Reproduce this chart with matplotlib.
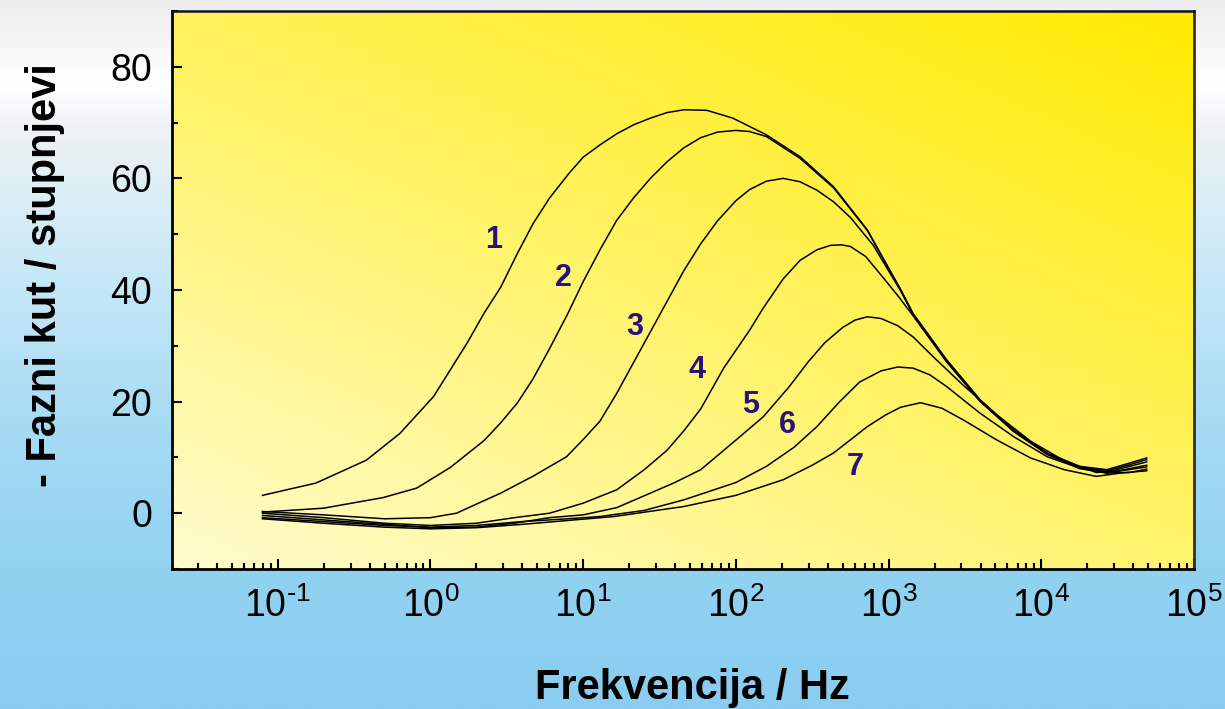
import numpy as np
import matplotlib
matplotlib.use("Agg")
import matplotlib.pyplot as plt
from matplotlib.colors import to_rgb
from matplotlib.ticker import FixedLocator, LogLocator, MultipleLocator, FixedFormatter, NullFormatter

plt.rcParams['font.family'] = ['Liberation Sans', 'DejaVu Sans']
plt.rcParams['mathtext.default'] = 'regular'
plt.rcParams['axes.unicode_minus'] = False

# ---- data (log10 of frequency in Hz, phase angle in degrees) ----
logf_1 = [-1.1, -0.75, -0.42, -0.2, 0.02, 0.24, 0.35, 0.46, 0.57, 0.67, 0.78, 0.91, 1.0, 1.11, 1.22, 1.33, 1.44,
          1.55, 1.66, 1.81, 1.98, 2.2, 2.42, 2.64, 2.86, 3.08, 3.16, 3.38, 3.6, 3.82, 4.04, 4.25, 4.43, 4.58, 4.69]
phase_1 = [3.2, 5.4, 9.5, 14.3, 20.9, 30.5, 35.8, 40.5, 46.6, 51.8, 56.5, 61.0, 63.8, 66.0, 68.0, 69.6, 70.8,
           71.8, 72.3, 72.2, 70.8, 67.8, 63.9, 58.5, 50.8, 40.0, 35.8, 27.5, 20.3, 14.9, 10.8, 8.4, 7.8, 9.0, 9.9]

logf_2 = [-1.1, -0.7, -0.31, -0.09, 0.13, 0.35, 0.46, 0.57, 0.67, 0.78, 0.9, 1.0, 1.11, 1.22, 1.33, 1.44, 1.55,
          1.66, 1.77, 1.88, 2.0, 2.09, 2.2, 2.42, 2.64, 2.86, 3.08, 3.16, 3.38, 3.6, 3.82, 4.04, 4.25, 4.43, 4.58, 4.69]
phase_2 = [0.2, 0.9, 2.8, 4.5, 8.2, 13.0, 16.2, 19.8, 24.0, 29.5, 35.8, 41.5, 47.2, 52.5, 56.5, 60.0, 63.0,
           65.5, 67.3, 68.3, 68.6, 68.4, 67.5, 63.6, 58.3, 50.7, 40.0, 35.7, 27.4, 20.2, 14.8, 10.7, 8.3, 7.6, 8.7, 9.6]

logf_3 = [-1.1, -0.7, -0.3, 0.0, 0.17, 0.46, 0.67, 0.89, 1.0, 1.11, 1.22, 1.33, 1.44, 1.57, 1.66, 1.77, 1.88,
          2.0, 2.09, 2.2, 2.31, 2.42, 2.53, 2.64, 2.75, 2.9, 3.08, 3.16, 3.38, 3.6, 3.82, 4.04, 4.25, 4.43, 4.58, 4.69]
phase_3 = [0.3, -0.3, -1.0, -0.8, 0.0, 3.6, 6.6, 10.1, 13.2, 16.5, 21.5, 27.0, 32.5, 39.0, 43.5, 48.3, 52.4,
           56.0, 58.0, 59.5, 60.0, 59.4, 57.9, 55.8, 53.0, 48.0, 39.8, 35.6, 27.3, 20.1, 14.7, 10.6, 8.2, 7.4, 8.4, 9.2]

logf_4 = [-1.1, -0.7, -0.3, 0.0, 0.3, 0.55, 0.78, 1.0, 1.22, 1.4, 1.55, 1.66, 1.77, 1.92, 2.09, 2.18, 2.31,
          2.42, 2.53, 2.62, 2.69, 2.75, 2.85, 2.95, 3.06, 3.16, 3.38, 3.6, 3.82, 4.04, 4.25, 4.43, 4.58, 4.69]
phase_4 = [0.0, -0.8, -1.8, -2.2, -1.8, -0.8, 0.0, 1.8, 4.2, 7.8, 11.3, 14.8, 18.7, 26.0, 32.8, 36.8, 42.0,
           45.3, 47.2, 48.0, 48.1, 47.8, 46.0, 42.7, 39.0, 35.4, 27.1, 20.0, 14.6, 10.5, 8.0, 7.2, 8.0, 8.6]

logf_5 = [-1.1, -0.7, -0.3, 0.0, 0.3, 0.55, 0.78, 1.0, 1.22, 1.44, 1.6, 1.77, 2.0, 2.18, 2.35, 2.47, 2.58,
          2.7, 2.78, 2.86, 2.95, 3.06, 3.16, 3.29, 3.49, 3.71, 3.93, 4.15, 4.36, 4.5, 4.69]
phase_5 = [-0.4, -1.2, -2.0, -2.6, -2.5, -1.8, -0.8, -0.3, 1.0, 3.6, 5.5, 7.8, 13.1, 17.3, 22.7, 27.0, 30.5,
           33.3, 34.6, 35.2, 34.9, 33.6, 31.6, 28.1, 22.9, 17.6, 12.9, 9.4, 7.3, 7.5, 8.3]

logf_6 = [-1.1, -0.7, -0.3, 0.0, 0.3, 0.6, 0.9, 1.11, 1.4, 1.66, 2.0, 2.2, 2.38, 2.53, 2.68, 2.81, 2.95,
          3.06, 3.16, 3.27, 3.38, 3.6, 3.82, 4.04, 4.25, 4.43, 4.58, 4.69]
phase_6 = [-0.8, -1.5, -2.2, -2.5, -2.2, -1.5, -1.0, -0.6, 0.5, 2.4, 5.5, 8.4, 11.8, 15.5, 20.0, 23.5, 25.5,
           26.2, 26.0, 24.8, 22.7, 17.9, 13.7, 10.1, 8.1, 7.2, 7.3, 7.9]

logf_7 = [-1.1, -0.7, -0.3, 0.0, 0.3, 0.6, 0.9, 1.2, 1.66, 2.0, 2.31, 2.5, 2.64, 2.86, 2.98, 3.08, 3.21,
          3.35, 3.49, 3.71, 3.93, 4.15, 4.36, 4.52, 4.69]
phase_7 = [-1.0, -1.8, -2.5, -2.8, -2.6, -2.0, -1.3, -0.6, 1.2, 3.2, 6.0, 8.6, 10.8, 15.5, 17.6, 19.0, 19.8,
           18.8, 16.7, 13.1, 9.9, 7.8, 6.6, 7.2, 7.6]

curve_labels = ["1", "2", "3", "4", "5", "6", "7"]
label_freq = [2.6, 7.4, 21.9, 55.8, 124, 217, 604]
label_phase = [49.0, 42.2, 33.4, 25.7, 19.4, 15.8, 8.3]

x_major_ticks = [1e-1, 1e0, 1e1, 1e2, 1e3, 1e4, 1e5]
x_tick_labels = [r'$10^{\text{-}1}$', r'$10^{0}$', r'$10^{1}$', r'$10^{2}$', r'$10^{3}$', r'$10^{4}$', r'$10^{5}$']
y_major_ticks = [0, 20, 40, 60, 80]

series = [(logf_1, phase_1), (logf_2, phase_2), (logf_3, phase_3), (logf_4, phase_4),
          (logf_5, phase_5), (logf_6, phase_6), (logf_7, phase_7)]

W, H = 1225, 709
fig = plt.figure(figsize=(W / 100, H / 100), dpi=100)

# figure background gradient (light grey/white top -> sky blue bottom)
bg = fig.add_axes([0, 0, 1, 1], zorder=-10)
bg.set_axis_off()
stops = [(0.0, '#eeeeee'), (0.06, '#f6f6f6'), (0.12, '#ffffff'), (0.18, '#eef2f4'),
         (0.35, '#cdeaf7'), (0.6, '#a6dbf4'), (0.8, '#92d2f1'), (1.0, '#8acdf0')]
ys = np.linspace(0, 1, 400)
cols = np.zeros((400, 1, 3))
sp = [s[0] for s in stops]
for c in range(3):
    vals = [to_rgb(s[1])[c] for s in stops]
    cols[:, 0, c] = np.interp(ys, sp, vals)
bg.imshow(cols, aspect='auto', extent=[0, 1, 0, 1], origin='upper')
bg.set_xlim(0, 1)
bg.set_ylim(0, 1)

ax = fig.add_axes([171.7 / W, 1 - 569 / H, (1194 - 171.7) / W, (569 - 11) / H])
ax.set_xscale('log')

# plot area gradient: pale yellow bottom-left -> saturated yellow top-right
n = 300
gx, gy = np.meshgrid(np.linspace(0, 1, n), np.linspace(0, 1, n))
t = np.clip(0.45 * gx + 0.55 * gy, 0, 1) ** 0.95
c0 = np.array(to_rgb('#fffcd0'))
c1 = np.array(to_rgb('#ffea00'))
img = c0[None, None, :] * (1 - t[..., None]) + c1[None, None, :] * t[..., None]
ax.imshow(img, aspect='auto', extent=[0, 1, 0, 1], origin='lower', transform=ax.transAxes, zorder=0)

for lf, ph in series:
    ax.plot(10 ** np.array(lf), ph, color='black', lw=1.1, zorder=3)

for lab, fx, py in zip(curve_labels, label_freq, label_phase):
    ax.text(fx, py, lab, color='#26137e', fontsize=22, fontweight='bold', ha='center', va='center', zorder=4)

ax.set_xlim(0.0202, 1e5)
ax.set_ylim(-10, 90)

ax.xaxis.set_major_locator(FixedLocator(x_major_ticks))
ax.xaxis.set_major_formatter(FixedFormatter(x_tick_labels))
ax.xaxis.set_minor_locator(LogLocator(base=10, subs=np.arange(2, 10), numticks=20))
ax.xaxis.set_minor_formatter(NullFormatter())
ax.yaxis.set_major_locator(FixedLocator(y_major_ticks))
ax.yaxis.set_minor_locator(MultipleLocator(10))

ax.tick_params(which='both', direction='in', color='black', width=1.5)
ax.tick_params(which='major', length=7)
ax.tick_params(which='minor', length=4)
ax.tick_params(axis='x', which='major', labelsize=27, pad=13)
ax.tick_params(axis='y', which='major', labelsize=27, pad=14)
ax.tick_params(top=False, right=False, which='both')

for s in ['left', 'bottom']:
    ax.spines[s].set_linewidth(2)
    ax.spines[s].set_color('black')
ax.spines['top'].set_linewidth(1.8)
ax.spines['top'].set_color('#101030')
ax.spines['right'].set_linewidth(2)
ax.spines['right'].set_color('#303030')

fig.text(45 / W, 1 - 275 / H, '- Fazni kut / stupnjevi', rotation=90, fontsize=30,
         fontweight='bold', ha='center', va='center')
fig.text(692 / W, 1 - 688 / H, 'Frekvencija / Hz', fontsize=30, fontweight='bold',
         ha='center', va='center')

fig.savefig('out.png', dpi=100)
